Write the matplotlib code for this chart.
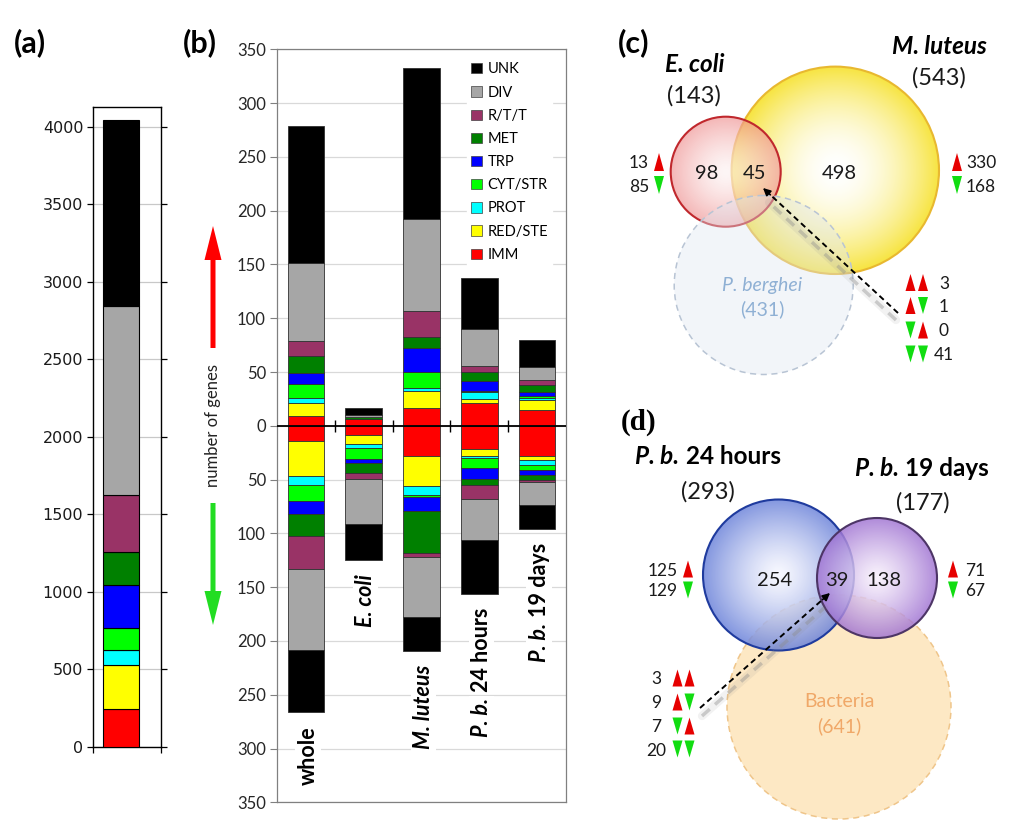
import numpy as np
import matplotlib
matplotlib.use('Agg')
import matplotlib.pyplot as plt
import matplotlib.colors as mcolors
import matplotlib.transforms as mtransforms
from matplotlib.patches import Circle, Polygon, Patch, FancyArrow
from matplotlib.ticker import FuncFormatter, MultipleLocator

plt.rcParams['font.family'] = ['Lato', 'DejaVu Sans']

# ---------------- data ----------------
class_names = ['UNK', 'DIV', 'R/T/T', 'MET', 'TRP', 'CYT/STR', 'PROT', 'RED/STE', 'IMM']
class_colors = ['#000000', '#a6a6a6', '#993366', '#008000', '#0000ff',
                '#00ff00', '#00ffff', '#ffff00', '#ff0000']

# panel (a): whole genome counts per class (IMM ... UNK, bottom to top)
whole_genome = [246, 286, 91, 142, 278, 213, 367, 1219, 1206]
stack_order = ['IMM', 'RED/STE', 'PROT', 'CYT/STR', 'TRP', 'MET', 'R/T/T', 'DIV', 'UNK']

# panel (b): up / down regulated gene counts
conditions = ['whole', 'E. coli', 'M. luteus', 'P. b. 24 hours', 'P. b. 19 days']
imm_up = [9, 6, 17, 21, 15]
red_up = [12, 0, 15, 4, 9]
prot_up = [5, 0, 3, 6, 2]
cyt_up = [13, 0, 15, 1, 2]
trp_up = [10, 0, 22, 10, 3]
met_up = [16, 2, 11, 8, 7]
rtt_up = [14, 0, 24, 6, 5]
div_up = [72, 2, 85, 34, 12]
unk_up = [128, 7, 141, 47, 25]

imm_down = [14, 9, 28, 22, 28]
red_down = [33, 8, 28, 6, 4]
prot_down = [8, 4, 8, 2, 4]
cyt_down = [15, 10, 2, 9, 5]
trp_down = [12, 4, 13, 10, 5]
met_down = [20, 9, 39, 6, 4]
rtt_down = [31, 5, 4, 13, 2]
div_down = [75, 42, 56, 38, 22]
unk_down = [58, 34, 31, 50, 22]

# panel (c) venn
venn_c_names = ['E. coli', 'M. luteus', 'P. berghei']
venn_c_totals = [143, 543, 431]
venn_c_regions = [98, 45, 498]
venn_c_ecoli_updown = [13, 85]
venn_c_mlut_updown = [330, 168]
venn_c_shared_combos = [3, 1, 0, 41]

# panel (d) venn
venn_d_names = ['P. b. 24 hours', 'P. b. 19 days', 'Bacteria']
venn_d_totals = [293, 177, 641]
venn_d_regions = [254, 39, 138]
venn_d_24h_updown = [125, 129]
venn_d_19d_updown = [71, 67]
venn_d_shared_combos = [3, 9, 7, 20]

up_vals = {'IMM': imm_up, 'RED/STE': red_up, 'PROT': prot_up, 'CYT/STR': cyt_up,
           'TRP': trp_up, 'MET': met_up, 'R/T/T': rtt_up, 'DIV': div_up, 'UNK': unk_up}
down_vals = {'IMM': imm_down, 'RED/STE': red_down, 'PROT': prot_down, 'CYT/STR': cyt_down,
             'TRP': trp_down, 'MET': met_down, 'R/T/T': rtt_down, 'DIV': div_down, 'UNK': unk_down}
col = dict(zip(class_names, class_colors))

W, H = 1012, 832
fig = plt.figure(figsize=(W / 100, H / 100), dpi=100)


def fbox(l, t, r, b):
    return [l / W, 1 - b / H, (r - l) / W, (b - t) / H]


# ---------------- panel (a) ----------------
ax_a = fig.add_axes(fbox(93, 107, 161, 747))
bot = 0
for name, v in zip(stack_order, whole_genome):
    ax_a.bar(0, v, bottom=bot, width=0.53, color=col[name], edgecolor='black', linewidth=0.8, zorder=3)
    bot += v
ax_a.set_xlim(-0.41, 0.59)
ax_a.set_ylim(0, 4129)
ax_a.yaxis.set_major_locator(MultipleLocator(500))
ax_a.yaxis.grid(True, color='#c8c8c8', linewidth=0.9)
ax_a.set_axisbelow(True)
ax_a.set_xticks([-0.41, 0.59])
ax_a.set_xticklabels([])
ax_a.tick_params(axis='y', left=True, right=True, direction='out', length=4, width=0.9,
                 labelsize=11.5, labelcolor='#1a1a1a', pad=3)
ax_a.tick_params(axis='x', direction='out', length=4, width=0.9)
for lab in ax_a.get_yticklabels():
    lab.set_fontfamily('DejaVu Sans')
for s in ax_a.spines.values():
    s.set_linewidth(1.0)

# ---------------- panel (b) ----------------
ax_b = fig.add_axes(fbox(277, 49.3, 566, 802.3))
x = np.arange(len(conditions))
bw = 0.63
bu = np.zeros(len(x))
bd = np.zeros(len(x))
for name in stack_order:
    u = np.array(up_vals[name], float)
    d = np.array(down_vals[name], float)
    ax_b.bar(x, u, bottom=bu, width=bw, color=col[name], edgecolor='#303030',
             linewidth=np.where(u > 0, 0.6, 0), zorder=3)
    ax_b.bar(x, -d, bottom=-bd, width=bw, color=col[name], edgecolor='#303030',
             linewidth=np.where(d > 0, 0.6, 0), zorder=3)
    bu += u
    bd += d
ax_b.set_xlim(-0.5, len(x) - 0.5)
ax_b.set_ylim(-350, 350)
ax_b.yaxis.set_major_locator(MultipleLocator(50))
ax_b.yaxis.set_major_formatter(FuncFormatter(lambda v, p: f'{abs(int(round(v)))}'))
ax_b.yaxis.grid(True, color='#d9d9d9', linewidth=0.9)
ax_b.set_axisbelow(True)
ax_b.set_xticks([])
ax_b.tick_params(axis='y', direction='out', length=5, width=0.8, color='#808080',
                 labelsize=12, labelcolor='#262626', pad=3)
for s in ax_b.spines.values():
    s.set_color('#808080')
    s.set_linewidth(0.9)
ax_b.axhline(0, color='black', linewidth=1.3, zorder=4)
ax_b.plot(x[:-1] + 0.5, np.zeros(len(x) - 1), ls='none', marker='|', ms=8, mew=1.0,
          color='black', zorder=4)

handles = [Patch(facecolor=c, edgecolor='#404040', linewidth=0.5) for c in class_colors]
leg = ax_b.legend(handles, class_names, loc='upper left', bbox_to_anchor=(467 / W, 1 - 58 / H),
                  bbox_transform=fig.transFigure, frameon=True, fancybox=False,
                  facecolor='white', edgecolor='white', framealpha=1,
                  fontsize=10.5, handlelength=0.7, handleheight=0.7, handletextpad=0.4,
                  labelspacing=0.63, borderpad=0.3, borderaxespad=0)
leg.set_zorder(6)

renderer = fig.canvas.get_renderer()


def mixed_text(ax, xd, yd, parts, size, rotation=0, color='black', bbox=None, zorder=7):
    """parts: list of (string, fontstyle); all bold."""
    objs, widths = [], []
    for s, st in parts:
        t = ax.text(0, 0, s, fontsize=size, fontweight='bold', fontstyle=st, color=color,
                    transform=mtransforms.IdentityTransform(), ha='left',
                    va='center_baseline', rotation_mode='anchor', zorder=zorder, bbox=bbox)
        widths.append(t.get_window_extent(renderer).width)
        objs.append(t)
    gap = size * 100 / 72 * 0.27
    total = sum(widths) + gap * (len(parts) - 1)
    px, py = ax.transData.transform((xd, yd))
    if rotation == 0:
        start = px - total / 2
        for t, w in zip(objs, widths):
            t.set_position((start, py))
            start += w + gap
    else:
        start = py - total  # anchor = top end
        for t, w in zip(objs, widths):
            t.set_rotation(90)
            t.set_position((px, start))
            start += w + gap
    return objs


label_parts = [[('whole', 'normal')],
               [('E. coli', 'italic')],
               [('M. luteus', 'italic')],
               [('P. b.', 'italic'), ('24 hours', 'normal')],
               [('P. b.', 'italic'), ('19 days', 'normal')]]
wbox = dict(facecolor='white', edgecolor='none', pad=1.5)
for i, parts in enumerate(label_parts):
    mixed_text(ax_b, x[i], -bd[i] - 13, parts, 15.5, rotation=90, bbox=wbox)

# ---------------- overlay (labels, arrows, venns) ----------------
ax_o = fig.add_axes([0, 0, 1, 1])
ax_o.set_xlim(0, W)
ax_o.set_ylim(H, 0)
ax_o.axis('off')

for lab, (lx, ly), fam, fs in [('(a)', (30, 40), None, 22), ('(b)', (200, 40), None, 22),
                               ('(c)', (634, 40), None, 22),
                               ('(d)', (639, 419), 'Liberation Serif', 21)]:
    kw = {}
    if fam:
        kw['fontfamily'] = fam
    ax_o.text(lx, ly, lab, fontsize=fs, fontweight='bold', ha='center',
              va='center_baseline', **kw)

# arrows & axis label of panel (b)
ax_o.add_patch(FancyArrow(213, 348, 0, -122, width=5, head_width=17, head_length=34,
                          length_includes_head=True, color='#ff0000', lw=0))
ax_o.add_patch(FancyArrow(213, 503, 0, 122, width=5, head_width=17, head_length=34,
                          length_includes_head=True, color='#22dd22', lw=0))
ax_o.text(213, 425.5, 'number of genes', rotation=90, fontsize=12, ha='center',
          va='center', color='#222222')


def grad_circle(ax, cx, cy, r, c0, c1, alpha=1.0, power=1.5, zorder=1, ec=None, lw=1.5,
                ls='-'):
    n = 300
    g = np.linspace(-1, 1, n)
    X, Y = np.meshgrid(g, g)
    d = np.clip(np.sqrt(X ** 2 + Y ** 2), 0, 1) ** power
    a0 = np.array(mcolors.to_rgb(c0))
    a1 = np.array(mcolors.to_rgb(c1))
    img = a0[None, None, :] * (1 - d[..., None]) + a1[None, None, :] * d[..., None]
    rgba = np.dstack([img, np.full(d.shape, alpha)])
    im = ax.imshow(rgba, extent=(cx - r, cx + r, cy + r, cy - r), origin='upper',
                   zorder=zorder, interpolation='bilinear')
    clip = Circle((cx, cy), r, transform=ax.transData)
    im.set_clip_path(clip)
    if ec:
        ax.add_patch(Circle((cx, cy), r, fill=False, ec=ec, lw=lw, ls=ls, zorder=zorder + 0.1))


RED_T = '#e60000'
GREEN_T = '#11dd11'


def tri(ax, xc, yc, up, w=10, h=18):
    if up:
        pts = [(xc - w / 2, yc + h / 2), (xc + w / 2, yc + h / 2), (xc, yc - h / 2)]
        c = RED_T
    else:
        pts = [(xc - w / 2, yc - h / 2), (xc + w / 2, yc - h / 2), (xc, yc + h / 2)]
        c = GREEN_T
    ax.add_patch(Polygon(pts, closed=True, facecolor=c, edgecolor='none', zorder=8))


def dashed_arrow(ax, tail, tip, shadow_off):
    tail = np.array(tail, float)
    tip = np.array(tip, float)
    sh0 = tail + np.array(shadow_off)
    sh1 = tip + np.array(shadow_off) + (tail - tip) * 0.06
    ax.plot([sh0[0], sh1[0]], [sh0[1], sh1[1]], color='#808080', lw=6, alpha=0.1,
            solid_capstyle='round', zorder=6)
    ax.plot([sh0[0], sh1[0]], [sh0[1], sh1[1]], color='#8c8c8c', lw=2.5, alpha=0.4,
            ls=(0, (3, 2)), zorder=6)
    v = (tip - tail) / np.linalg.norm(tip - tail)
    neck = tip - v * 9
    ax.plot([tail[0], neck[0]], [tail[1], neck[1]], color='black', lw=1.4, ls=(0, (3, 2)),
            zorder=9)
    ax.annotate('', xy=tip, xytext=neck - v * 1,
                arrowprops=dict(arrowstyle='-|>', color='black', lw=1.2, mutation_scale=11,
                                shrinkA=0, shrinkB=0), zorder=9)


# ---- panel (c) ----
grad_circle(ax_o, 835.3, 170.3, 103.7, '#ffffff', '#f7e440', alpha=1.0, power=1.8, zorder=1,
            ec='#e8b830', lw=1.5)
grad_circle(ax_o, 725.7, 171.7, 55, '#fdf2f2', '#ef9090', alpha=0.65, power=1.4, zorder=2,
            ec='#c0282d', lw=1.5)
ax_o.add_patch(Circle((763.7, 285), 89.5, facecolor='#dfe6f1', alpha=0.4, edgecolor='none',
                      zorder=3))
ax_o.add_patch(Circle((763.7, 285), 89.5, fill=False, edgecolor='#b8c4d4', lw=1.1,
                      ls=(0, (4, 3)), zorder=3.1))

mixed_text(ax_o, 694.5, 62, [(venn_c_names[0], 'italic')], 17.5)
mixed_text(ax_o, 939, 45, [(venn_c_names[1], 'italic')], 17.5)
ax_o.text(693.5, 93.5, f'({venn_c_totals[0]})', fontsize=17, ha='center', va='center_baseline',
          color='#1a1a1a', zorder=7)
ax_o.text(938.5, 76, f'({venn_c_totals[1]})', fontsize=17, ha='center', va='center_baseline',
          color='#1a1a1a', zorder=7)
ax_o.text(762.5, 283.5, venn_c_names[2], fontsize=14, fontstyle='italic', ha='center',
          va='center_baseline', color='#8fb0d4', zorder=7)
ax_o.text(762.5, 307.5, f'({venn_c_totals[2]})', fontsize=14, ha='center', va='center_baseline',
          color='#8fb0d4', zorder=7)
for val, xc in zip(venn_c_regions, [706.5, 755, 839.5]):
    ax_o.text(xc, 172, str(val), fontsize=14.5, ha='center', va='center_baseline',
              color='#1a1a1a', zorder=7)
# side counts
for val, yc, up in zip(venn_c_ecoli_updown, [162, 185], [True, False]):
    ax_o.text(649, yc, str(val), fontsize=12.5, ha='right', va='center_baseline', color='#1a1a1a',
              zorder=7)
    tri(ax_o, 659, yc, up)
for val, yc, up in zip(venn_c_mlut_updown, [162, 185], [True, False]):
    ax_o.text(966, yc, str(val), fontsize=12.5, ha='left', va='center_baseline', color='#1a1a1a',
              zorder=7)
    tri(ax_o, 957, yc, up)
combos = [(True, True), (True, False), (False, True), (False, False)]
for val, yc, (u1, u2) in zip(venn_c_shared_combos, [282.5, 305.5, 330, 354], combos):
    tri(ax_o, 910.5, yc, u1, h=17)
    tri(ax_o, 923, yc, u2, h=17)
    ax_o.text(944, yc, str(val), fontsize=12.5, ha='center', va='center_baseline',
              color='#1a1a1a', zorder=7)
dashed_arrow(ax_o, (898, 313), (763, 188), (-2, 7))

# ---- panel (d) ----
ax_o.add_patch(Circle((839, 707), 112, facecolor='#fde8c4', edgecolor='none', zorder=1))
ax_o.add_patch(Circle((839, 707), 112, fill=False, edgecolor='#efc58a', lw=1.1,
                      ls=(0, (4, 3)), zorder=1.1))
grad_circle(ax_o, 778.5, 575, 75.5, '#f6f7ff', '#6d84da', alpha=0.85, power=1.3, zorder=2,
            ec='#1f3b9e', lw=1.5)
grad_circle(ax_o, 877, 578, 60, '#f8f0fc', '#9f72d2', alpha=0.82, power=1.2, zorder=3,
            ec='#4d3566', lw=1.5)

mixed_text(ax_o, 708, 455, [('P. b.', 'italic'), ('24 hours', 'normal')], 17.5)
mixed_text(ax_o, 922, 467, [('P. b.', 'italic'), ('19 days', 'normal')], 17.5)
ax_o.text(708, 490, f'({venn_d_totals[0]})', fontsize=17, ha='center', va='center_baseline',
          color='#1a1a1a', zorder=7)
ax_o.text(922.5, 501, f'({venn_d_totals[1]})', fontsize=17, ha='center', va='center_baseline',
          color='#1a1a1a', zorder=7)
ax_o.text(839, 700, venn_d_names[2], fontsize=14, ha='center', va='center_baseline',
          color='#f0a868', zorder=7)
ax_o.text(839, 725, f'({venn_d_totals[2]})', fontsize=14, ha='center', va='center_baseline',
          color='#f0a868', zorder=7)
for val, xc in zip(venn_d_regions, [775, 836.5, 884]):
    ax_o.text(xc, 579.5, str(val), fontsize=14.5, ha='center', va='center_baseline',
              color='#1a1a1a', zorder=7)
for val, yc, up in zip(venn_d_24h_updown, [569, 590], [True, False]):
    ax_o.text(678, yc, str(val), fontsize=12.5, ha='right', va='center_baseline', color='#1a1a1a',
              zorder=7)
    tri(ax_o, 688, yc, up, h=17)
for val, yc, up in zip(venn_d_19d_updown, [569, 590], [True, False]):
    ax_o.text(965, yc, str(val), fontsize=12.5, ha='left', va='center_baseline', color='#1a1a1a',
              zorder=7)
    tri(ax_o, 953, yc, up, h=17)
for val, yc, (u1, u2) in zip(venn_d_shared_combos, [678, 702, 726, 749], combos):
    tri(ax_o, 677.5, yc, u1, h=17)
    tri(ax_o, 689.5, yc, u2, h=17)
    ax_o.text(656, yc, str(val), fontsize=12.5, ha='center', va='center_baseline',
              color='#1a1a1a', zorder=7)
dashed_arrow(ax_o, (700, 708), (830, 593), (2, 8))

ax_o.set_aspect('auto')
ax_o.set_xlim(0, W)
ax_o.set_ylim(H, 0)

fig.savefig('out.png', dpi=100)
